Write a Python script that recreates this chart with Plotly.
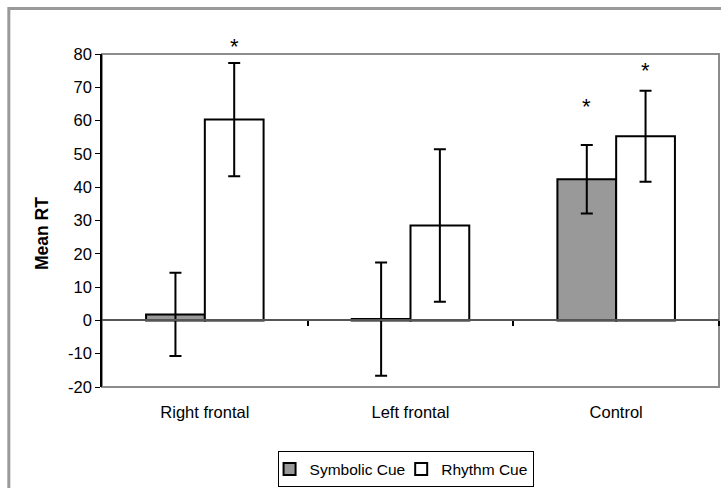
import plotly.graph_objects as go

categories = ["Right frontal", "Left frontal", "Control"]
symbolic_mean = [1.8, 0.4, 42.4]
symbolic_err = [12.5, 17.0, 10.3]
rhythm_mean = [60.3, 28.5, 55.3]
rhythm_err = [17.0, 22.9, 13.7]
# significance markers (y position in data units, None = no marker)
symbolic_star = [None, None, 66.0]
rhythm_star = [84.0, None, 76.8]
y_ticks = [-20, -10, 0, 10, 20, 30, 40, 50, 60, 70, 80]
y_tick_labels = ["-20", "-10", "0", "10", "20", "30", "40", "50", "60", "70", "80"]
y_range = [-20, 80]

FONT = "Liberation Sans, Arial, sans-serif"

fig = go.Figure()
fig.add_trace(go.Bar(
    name="Symbolic Cue", x=categories, y=symbolic_mean,
    marker=dict(color="#999999", line=dict(color="black", width=2)),
    error_y=dict(type="data", array=symbolic_err, color="black", thickness=2, width=6),
))
fig.add_trace(go.Bar(
    name="Rhythm Cue", x=categories, y=rhythm_mean,
    marker=dict(color="white", line=dict(color="black", width=2)),
    error_y=dict(type="data", array=rhythm_err, color="black", thickness=2, width=6),
))
# invisible trace to hold the category-boundary axis at y=0
fig.add_trace(go.Scatter(x=[-0.5, len(categories) - 0.5], y=[0, 0], xaxis="x2",
                         mode="lines", line=dict(width=0), showlegend=False, hoverinfo="skip"))

def to_paper(v):
    return (v - y_range[0]) / (y_range[1] - y_range[0])

annotations = []
for i, c in enumerate(categories):
    for star, off in ((symbolic_star[i], 0), (rhythm_star[i], 1)):
        if star is not None:
            annotations.append(dict(
                x=c, y=to_paper(star), xref="x", yref="paper", text="*", showarrow=False,
                xshift=-29.5 if off == 0 else 29.5, yshift=-6,
                font=dict(family=FONT, size=22, color="black"),
                yanchor="middle", xanchor="center"))
annotations.append(dict(
    x=-0.097, y=0.46, xref="paper", yref="paper", text="<b>Mean RT</b>",
    textangle=-90, showarrow=False, font=dict(family=FONT, size=17.5, color="black"),
    xanchor="center", yanchor="middle"))

fig.update_layout(
    width=721, height=488,
    margin=dict(l=102, r=2, t=54, b=100),
    paper_bgcolor="white", plot_bgcolor="white",
    barmode="group", bargap=0.4286, bargroupgap=0,
    font=dict(family=FONT, size=16, color="black"),
    showlegend=True,
    legend=dict(orientation="h", x=0.492, y=-0.19, xanchor="center", yanchor="top",
                bordercolor="black", borderwidth=1, bgcolor="white",
                font=dict(family=FONT, size=15.5, color="black"),
                itemwidth=30, tracegroupgap=0, indentation=-9),
    xaxis=dict(type="category", showline=False, ticks="", showgrid=False,
               tickfont=dict(family=FONT, size=16.5, color="black"),
               ticklabelstandoff=13, range=[-0.5, 2.5]),
    xaxis2=dict(overlaying="x", anchor="free", position=to_paper(0), range=[-0.5, 2.5],
                showline=True, linecolor="#555555", linewidth=1.5, ticks="outside",
                ticklen=5, tickwidth=1.5, tickcolor="black",
                tickvals=[0.5, 1.5, 2.5], showticklabels=False, showgrid=False,
                zeroline=False),
    yaxis=dict(range=y_range, tickvals=y_ticks, ticktext=y_tick_labels,
               showgrid=False, zeroline=False,
               showline=True, linecolor="black", linewidth=1.5, ticks="outside",
               ticklen=5, tickwidth=1, tickcolor="black",
               tickfont=dict(family=FONT, size=16.5, color="black")),
    annotations=annotations,
    shapes=[
        dict(type="rect", xref="paper", yref="paper", x0=0, x1=1, y0=0, y1=1,
             line=dict(color="#8c8c8c", width=2), layer="below"),
        dict(type="rect", xref="paper", yref="paper", x0=-0.151, x1=1.02, y0=-0.35, y1=1.137,
             line=dict(color="#9a9a9a", width=3), layer="below"),
    ],
)

fig.write_html("out.html")
